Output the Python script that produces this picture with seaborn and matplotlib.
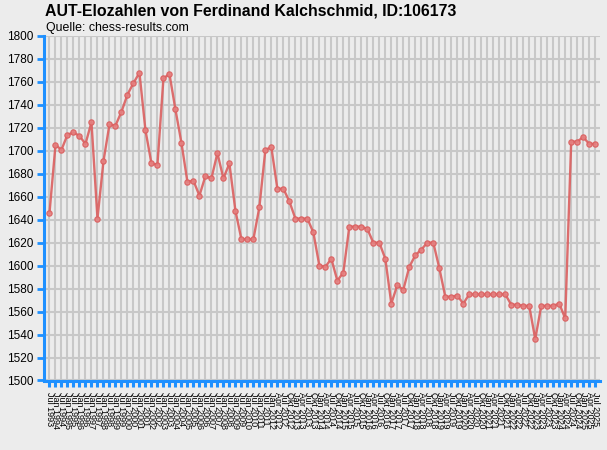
import matplotlib
matplotlib.use("Agg")
import matplotlib.pyplot as plt
import seaborn as sns
import pandas as pd

title = "AUT-Elozahlen von Ferdinand Kalchschmid, ID:106173"
subtitle = "Quelle: chess-results.com"

labels = [
    "Jul 1993",
    "Jan 1994", "Jul 1994", "Jan 1995", "Jul 1995", "Jan 1996", "Jul 1996",
    "Jan 1997", "Jul 1997", "Jan 1998", "Jul 1998", "Jan 1999", "Jul 1999",
    "Jan 2000", "Jul 2000", "Jan 2001", "Jul 2001", "Jan 2002", "Jul 2002",
    "Jan 2003", "Jul 2003", "Jan 2004", "Jul 2004", "Jan 2005", "Jul 2005",
    "Jan 2006", "Jul 2006", "Jan 2007", "Jul 2007", "Jan 2008", "Jul 2008",
    "Jan 2009", "Jul 2009", "Jan 2010", "Jul 2010", "Jan 2011", "Jul 2011",
    "Jan 2012", "Apr 2012", "Jul 2012", "Okt 2012",
    "Jan 2013", "Apr 2013", "Jul 2013", "Okt 2013",
    "Jan 2014", "Apr 2014", "Jul 2014", "Okt 2014",
    "Jan 2015", "Apr 2015", "Jul 2015", "Okt 2015",
    "Jan 2016", "Apr 2016", "Jul 2016", "Okt 2016",
    "Jan 2017", "Apr 2017", "Jul 2017", "Okt 2017",
    "Jan 2018", "Apr 2018", "Jul 2018", "Okt 2018",
    "Jan 2019", "Apr 2019", "Jul 2019", "Okt 2019",
    "Jan 2020", "Apr 2020", "Jul 2020", "Okt 2020",
    "Jan 2021", "Apr 2021", "Jul 2021", "Okt 2021",
    "Jan 2022", "Apr 2022", "Jul 2022", "Okt 2022",
    "Jan 2023", "Apr 2023", "Jul 2023", "Okt 2023",
    "Jan 2024", "Apr 2024", "Jul 2024", "Okt 2024",
    "Jan 2025", "Apr 2025", "Jul 2025",
]

elo = [
    1646, 1705, 1701, 1714, 1716, 1713, 1706, 1725, 1641, 1691,
    1723, 1722, 1734, 1749, 1759, 1768, 1718, 1689, 1688, 1763,
    1767, 1736, 1707, 1673, 1674, 1661, 1678, 1676, 1698, 1676,
    1689, 1648, 1623, 1623, 1623, 1651, 1701, 1703, 1667, 1667,
    1656, 1641, 1641, 1641, 1629, 1600, 1599, 1606, 1587, 1594,
    1634, 1634, 1634, 1632, 1620, 1620, 1606, 1567, 1583, 1579,
    1599, 1609, 1614, 1620, 1620, 1598, 1573, 1573, 1574, 1567,
    1575, 1575, 1575, 1575, 1575, 1575, 1575, 1566, 1566, 1565,
    1565, 1536, 1565, 1565, 1565, 1567, 1554, 1708, 1708, 1712,
    1706, 1706,
]

y_ticks = list(range(1500, 1801, 20))

BG = "#ECECEC"
GRID = "#C8C8C8"
BLUE = "#1E90FF"
LINE = "#DB5F5F"

sns.set_theme(style="whitegrid")
plt.rcParams["font.family"] = ["Liberation Sans", "DejaVu Sans"]

W, H = 607, 450
fig = plt.figure(figsize=(W / 100, H / 100), dpi=100, facecolor=BG)
left, right, top, bottom = 43.5, 600, 36, 380.5
ax = fig.add_axes([left / W, 1 - bottom / H, (right - left) / W, (bottom - top) / H])
ax.set_facecolor(BG)

df = pd.DataFrame({"idx": range(len(elo)), "elo": elo})
sns.lineplot(data=df, x="idx", y="elo", ax=ax, color=LINE, linewidth=1.7,
             marker="o", markersize=3.8, markeredgewidth=0.9,
             markeredgecolor=LINE, markerfacecolor="#E58080", alpha=0.9, zorder=3)

ax.set_xlim(-1, len(elo) - 0.2)
ax.set_ylim(1500, 1800)
ax.set_xticks(range(len(elo)))
ax.set_xticklabels(labels, rotation=270, fontsize=6.5, va="top", ha="center")
ax.set_yticks(y_ticks)
ax.set_yticklabels([str(v) for v in y_ticks], fontsize=8.5)
ax.set_xlabel("")
ax.set_ylabel("")

ax.grid(True, color=GRID, linewidth=1.5)
for s in ["top", "right"]:
    ax.spines[s].set_visible(False)
for s in ["left", "bottom"]:
    ax.spines[s].set_visible(True)
    ax.spines[s].set_color(BLUE)
    ax.spines[s].set_linewidth(2.2)
ax.tick_params(axis="y", which="major", direction="out", length=5, width=2,
               color=BLUE, pad=2, left=True, labelcolor="black")
ax.tick_params(axis="x", which="major", direction="out", length=4.5, width=2.2,
               color=BLUE, pad=4, bottom=True, labelcolor="black")

fig.text(45 / W, 1 - 16 / H, title, fontsize=11.4, fontweight="bold",
         va="baseline", ha="left", color="black")
fig.text(46 / W, 1 - 31 / H, subtitle, fontsize=8.9, va="baseline",
         ha="left", color="black")

fig.savefig("out.png", dpi=100, facecolor=BG)
